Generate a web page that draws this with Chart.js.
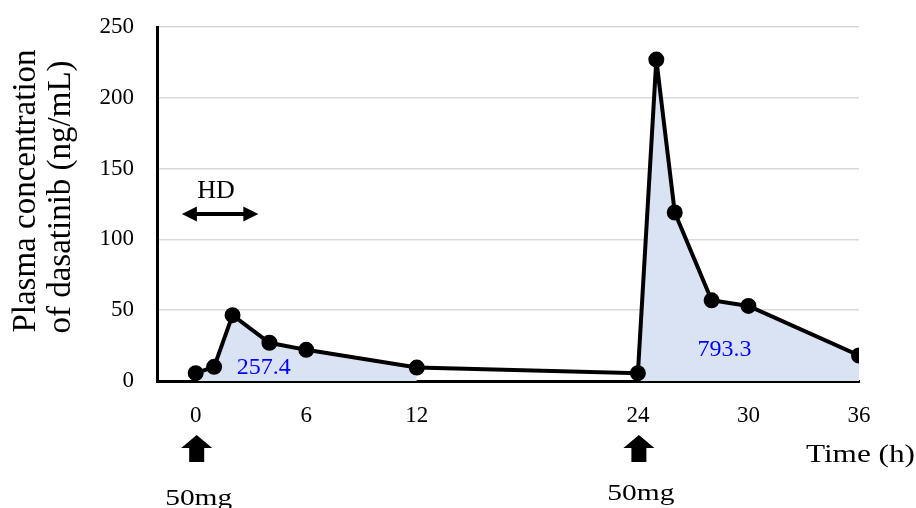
<!DOCTYPE html>
<html>
<head>
<meta charset="utf-8">
<script src="https://cdn.jsdelivr.net/npm/chart.js@4"></script>
<style>
  html, body { margin: 0; padding: 0; background: #fff; }
  #wrap { width: 916px; height: 508px; }
</style>
</head>
<body>
<div id="wrap"><canvas id="pk"></canvas></div>
<script>
// sampling times (h) and dasatinib plasma concentration (ng/mL)
const timeH = [0, 1, 2, 4, 6, 12, 24, 25, 26, 28, 30, 36];
const concentration = [5.5, 10, 46.5, 27, 22, 9.5, 5.5, 227, 119, 57, 53, 18];
const xTicks = [0, 6, 12, 24, 30, 36];
const doseTimes = [0, 24];
const doseLabels = ['50mg', '50mg'];
const aucWindows = [[0, 12], [24, 36]];
const aucLabels = ['257.4', '793.3'];
const yTitle = ['Plasma concentration', 'of dasatinib (ng/mL)'];

const serif = '"Liberation Serif", "Times New Roman", serif';
const points = timeH.map((t, i) => ({ x: t, y: concentration[i] }));

const fillSets = aucWindows.map(w => ({
    data: points.filter(p => p.x >= w[0] && p.x <= w[1]),
    borderWidth: 0,
    pointRadius: 0,
    backgroundColor: '#dae3f3',
    fill: 'origin'
}));

function drawText(ctx, str, cx, base, size, color, sx, align) {
    ctx.save();
    ctx.translate(cx, base);
    ctx.scale(sx || 1, 1);
    ctx.font = size + 'px ' + serif;
    ctx.fillStyle = color;
    ctx.textAlign = align || 'center';
    ctx.textBaseline = 'alphabetic';
    ctx.fillText(str, 0, 0);
    ctx.restore();
}

const overlay = {
    id: 'overlay',
    afterDraw(chart) {
        const { ctx, chartArea } = chart;
        const x = chart.scales.x, y = chart.scales.y;
        const bottom = chartArea.bottom;

        // y-axis title, two rotated lines
        ctx.save();
        ctx.translate(35, 191);
        ctx.rotate(-Math.PI / 2);
        drawText(ctx, yTitle[0], 0, 0, 33, '#000');
        ctx.restore();
        ctx.save();
        ctx.translate(70, 197);
        ctx.rotate(-Math.PI / 2);
        drawText(ctx, yTitle[1], 0, 0, 33, '#000');
        ctx.restore();

        // AUC values
        drawText(ctx, aucLabels[0], x.getPixelForValue(3.7), y.getPixelForValue(5), 24, '#0000ff');
        drawText(ctx, aucLabels[1], x.getPixelForValue(28.7), y.getPixelForValue(17.7), 24, '#0000ff');

        // HD label and double arrow
        drawText(ctx, 'HD', x.getPixelForValue(1.1), y.getPixelForValue(129), 26, '#000');
        const ax1 = x.getPixelForValue(-0.75), ax2 = x.getPixelForValue(3.4), ay = y.getPixelForValue(118);
        ctx.save();
        ctx.fillStyle = '#000';
        ctx.strokeStyle = '#000';
        ctx.lineWidth = 4;
        ctx.beginPath();
        ctx.moveTo(ax1 + 12, ay);
        ctx.lineTo(ax2 - 12, ay);
        ctx.stroke();
        ctx.beginPath();
        ctx.moveTo(ax1, ay);
        ctx.lineTo(ax1 + 15, ay - 7.5);
        ctx.lineTo(ax1 + 15, ay + 7.5);
        ctx.closePath();
        ctx.moveTo(ax2, ay);
        ctx.lineTo(ax2 - 15, ay - 7.5);
        ctx.lineTo(ax2 - 15, ay + 7.5);
        ctx.closePath();
        ctx.fill();

        // dose arrows
        doseTimes.forEach((t, i) => {
            const cx = x.getPixelForValue(t) + 1;
            ctx.beginPath();
            ctx.moveTo(cx, bottom + 54);
            ctx.lineTo(cx + 15.5, bottom + 67);
            ctx.lineTo(cx + 7.5, bottom + 67);
            ctx.lineTo(cx + 7.5, bottom + 81);
            ctx.lineTo(cx - 7.5, bottom + 81);
            ctx.lineTo(cx - 7.5, bottom + 67);
            ctx.lineTo(cx - 15.5, bottom + 67);
            ctx.closePath();
            ctx.fill();
            drawText(ctx, doseLabels[i], cx + 2, bottom + (i === 0 ? 124 : 119), 23, '#000', 1.28);
        });
        ctx.restore();

        // x-axis title
        drawText(ctx, 'Time (h)', chart.width - 1, bottom + 81, 25, '#000', 1.25, 'right');
    }
};

new Chart(document.getElementById('pk'), {
    type: 'line',
    data: {
        datasets: [{
            data: points,
            borderColor: '#000',
            borderWidth: 4,
            pointRadius: 6,
            pointBackgroundColor: '#000',
            pointBorderColor: '#000',
            fill: false,
            tension: 0
        }].concat(fillSets)
    },
    options: {
        responsive: true,
        maintainAspectRatio: false,
        animation: false,
        layout: { padding: { left: 0, top: 27, right: 57, bottom: 0 } },
        plugins: {
            legend: { display: false },
            tooltip: { enabled: false }
        },
        scales: {
            x: {
                type: 'linear',
                min: -2.1,
                max: 36,
                afterBuildTicks: scale => { scale.ticks = xTicks.map(v => ({ value: v })); },
                afterFit: scale => { scale.height = 127; },
                grid: { display: false, drawTicks: false },
                border: { color: '#000', width: 3 },
                ticks: {
                    padding: 21,
                    color: '#000',
                    font: { family: serif, size: 23 },
                    maxRotation: 0
                }
            },
            y: {
                min: 0,
                max: 250,
                afterFit: scale => {
                    scale.width = 157;
                    scale.paddingTop = 0;
                    scale.paddingBottom = 0;
                },
                grid: { color: '#d9d9d9', lineWidth: 1.5, drawTicks: false },
                border: { color: '#000', width: 3 },
                ticks: {
                    stepSize: 50,
                    padding: 23,
                    color: '#000',
                    font: { family: serif, size: 23 }
                }
            }
        }
    },
    plugins: [overlay]
});
</script>
</body>
</html>
